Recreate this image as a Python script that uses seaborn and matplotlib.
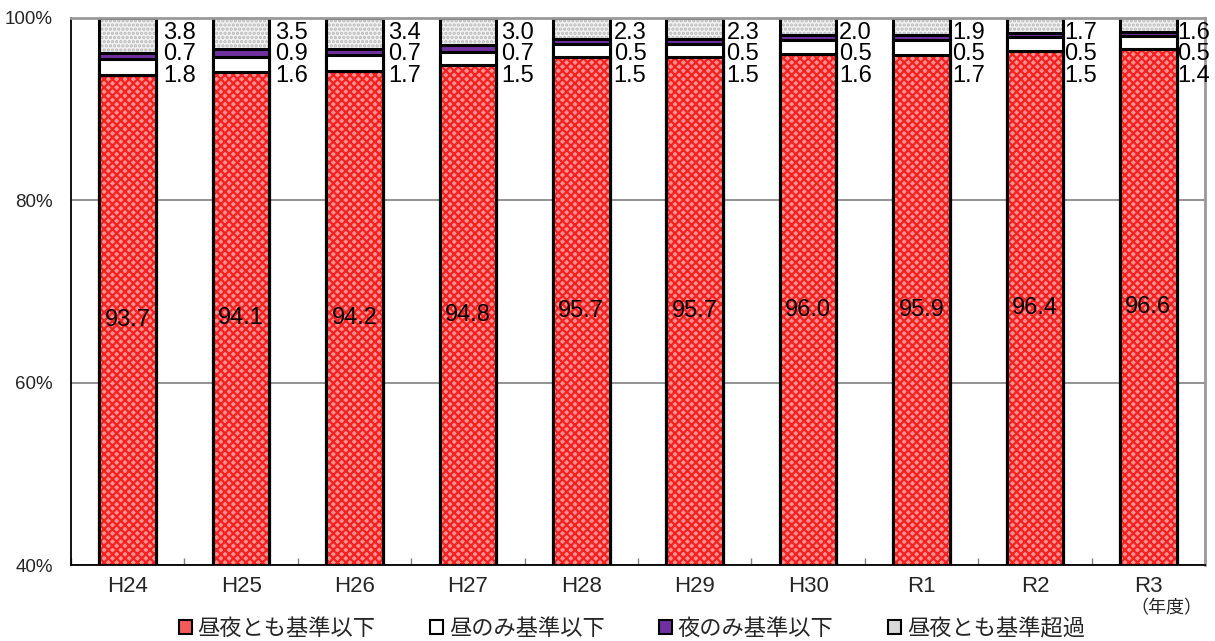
import matplotlib
matplotlib.use("Agg")
import matplotlib.pyplot as plt
from matplotlib.patches import Patch
import seaborn as sns
import numpy as np

# Survey years and shares (%) of each category
years = ["H24", "H25", "H26", "H27", "H28", "H29", "H30", "R1", "R2", "R3"]
both_ok = [93.7, 94.1, 94.2, 94.8, 95.7, 95.7, 96.0, 95.9, 96.4, 96.6]
day_only = [1.8, 1.6, 1.7, 1.5, 1.5, 1.5, 1.6, 1.7, 1.5, 1.4]
night_only = [0.7, 0.9, 0.7, 0.7, 0.5, 0.5, 0.5, 0.5, 0.5, 0.5]
both_over = [3.8, 3.5, 3.4, 3.0, 2.3, 2.3, 2.0, 1.9, 1.7, 1.6]
series_names = ["昼夜とも基準以下", "昼のみ基準以下", "夜のみ基準以下", "昼夜とも基準超過"]

sns.set_theme(style="white")
plt.rcParams["font.family"] = ["Liberation Sans", "Noto Sans CJK JP", "DejaVu Sans"]
plt.rcParams["hatch.linewidth"] = 1.6

fig = plt.figure(figsize=(12.15, 6.41), dpi=100)
ax = fig.add_axes([71 / 1215, 1 - 565 / 641, (1205 - 71) / 1215, (565 - 18) / 641])

segments = [both_ok, day_only, night_only, both_over]
face = ["#ff9090", "#ffffff", "#7030a0", "#f2f2f2"]
hatch_col = ["#f52020", "#ffffff", "#7030a0", "#b8b8b8"]
hatches = ["xxxx", None, None, "...."]

cum = np.cumsum(np.array(segments), axis=0)

# Stacked bars: draw cumulative totals from the top segment down
for k in range(len(segments) - 1, -1, -1):
    sns.barplot(x=years, y=cum[k], color=face[k], saturation=1, width=0.5,
                edgecolor=hatch_col[k], linewidth=0, hatch=hatches[k], ax=ax)
    sns.barplot(x=years, y=cum[k], color="black", fill=False, saturation=1,
                width=0.5, linewidth=2.2, ax=ax)

num_font = dict(family=["Liberation Sans"], fontsize=17, color="black")

for i in range(len(years)):
    ax.text(i, (40 + both_ok[i]) / 2, f"{both_ok[i]:.1f}", ha="center", va="center", **num_font)
    xr = i + 0.31 - 0.006 * i
    ax.text(xr, 93.6, f"{day_only[i]:.1f}", ha="left", va="center", **num_font)
    ax.text(xr, 96.0, f"{night_only[i]:.1f}", ha="left", va="center", **num_font)
    ax.text(xr, 98.4, f"{both_over[i]:.1f}", ha="left", va="center", **num_font)

ax.set_ylim(40, 100)
ax.set_xlim(-0.5, len(years) - 0.5)
ax.set_yticks([40, 60, 80, 100])
ax.set_yticklabels([f"{v}%" for v in [40, 60, 80, 100]])
ax.yaxis.grid(True, color="#808080", linewidth=1.2)
ax.set_axisbelow(True)
ax.set_xlabel("")
ax.set_ylabel("")
ax.tick_params(axis="y", length=0, pad=13, labelsize=13.5)
ax.set_xticks(np.arange(len(years)))
ax.set_xticklabels(years)
ax.tick_params(axis="x", length=0, pad=8, labelsize=16)
ax.set_xticks(np.arange(len(years) + 1) - 0.5, minor=True)
ax.tick_params(axis="x", which="minor", direction="in", length=5, color="#808080", width=1, bottom=True)

for side in ["left", "bottom"]:
    ax.spines[side].set_color("black")
    ax.spines[side].set_linewidth(1.3)
for side in ["top", "right"]:
    ax.spines[side].set_color("#999999")
    ax.spines[side].set_linewidth(2)

ax.text(len(years) - 1 + 0.16, 35.2, "（年度）", ha="center", va="center",
        fontsize=13, family=["Noto Sans CJK JP"])

handles = [Patch(facecolor=c, edgecolor="black", linewidth=1.5, hatch=None) for c in
           ["#f55a5a", "#ffffff", "#7030a0", "#d8d8d8"]]
leg = fig.legend(handles, series_names, loc="lower center", bbox_to_anchor=(0.52, -0.03),
                 ncol=4, frameon=False, handlelength=0.6, handleheight=0.6,
                 handletextpad=0.25, columnspacing=2.45,
                 prop=dict(family=["Noto Sans CJK JP"], size=16))

fig.savefig("out.png", dpi=100)
